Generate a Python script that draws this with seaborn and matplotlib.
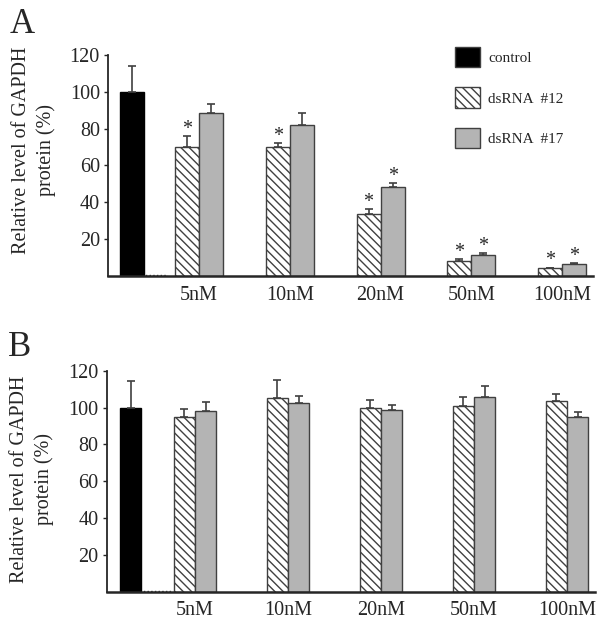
import numpy as np
import pandas as pd
import matplotlib
matplotlib.use("Agg")
import matplotlib.pyplot as plt
from matplotlib.patches import Patch
import seaborn as sns

# ========= DATOS =========
doses = ["5nM", "10nM", "20nM", "50nM", "100nM"]
series = ["dsRNA  #12", "dsRNA  #17"]

# Panel A
ctrl_a, ctrl_err_a = 100, 14
a_12 = [70, 70.2, 33.7, 8.3, 4.2]
a_12_err = [6, 2.2, 2.5, 0.8, 0.4]
a_17 = [88.7, 82, 48.2, 11.4, 6.4]
a_17_err = [4.7, 6.3, 2.5, 1.3, 0.4]
sig_12 = [True, True, True, True, True]
sig_17 = [False, False, True, True, True]

# Panel B
ctrl_b, ctrl_err_b = 100, 14.5
b_12 = [95, 105, 99.5, 101, 103.5]
b_12_err = [4, 10, 4.5, 5, 4]
b_17 = [98.3, 102.3, 98.6, 106, 95]
b_17_err = [5, 4, 2.8, 5.7, 2.4]

yticks = [20, 40, 60, 80, 100, 120]
ylab = "Relative level of GAPDH\nprotein (%)"

# ========= ESTILO =========
sns.set_style("ticks")
plt.rcParams["font.family"] = ["Liberation Serif", "DejaVu Serif"]
plt.rcParams["hatch.linewidth"] = 1.0
plt.rcParams["hatch.color"] = "black"

GREY = "#b4b4b4"
EDGE = "#404040"
HATCH = "\\\\\\\\"
FS = 14.5


def make_df(v12, v17, e12, e17):
    return pd.DataFrame({
        "dose": doses * 2,
        "serie": [series[0]] * 5 + [series[1]] * 5,
        "valor": v12 + v17,
        "err": e12 + e17,
    })


def draw_panel(ax, df, ctrl, ctrl_err, width, ctrl_x, dot_x, dot_w, xlim, sig=None):
    sns.barplot(data=df, x="dose", y="valor", hue="serie",
                order=[""] + doses, hue_order=series,
                palette={series[0]: "white", series[1]: GREY},
                edgecolor=EDGE, linewidth=1.0, width=width,
                errorbar=None, legend=False, ax=ax)
    bw = width / 2
    for p in ax.containers[0]:
        p.set_hatch(HATCH)

    # barra control + barra vacia punteada
    ax.bar(ctrl_x, ctrl, width=bw, color="black", edgecolor="black", linewidth=1.0)
    ax.errorbar(ctrl_x, ctrl, yerr=[[0], [ctrl_err]], fmt="none",
                ecolor=EDGE, elinewidth=1.2, capsize=3, capthick=1.2)
    ax.bar(dot_x, 0.4, width=dot_w, color="none", edgecolor=EDGE,
           linewidth=1.0, linestyle=":")

    for k, cont in enumerate(ax.containers[:2]):
        xs = [p.get_x() + p.get_width() / 2 for p in cont]
        vals = df[df["serie"] == series[k]]["valor"].values
        errs = df[df["serie"] == series[k]]["err"].values
        ax.errorbar(xs, vals, yerr=[np.zeros(len(errs)), errs], fmt="none",
                    ecolor=EDGE, elinewidth=1.2, capsize=3, capthick=1.2)
        if sig is not None:
            for x, v, e, s in zip(xs, vals, errs, sig[k]):
                if s:
                    ax.annotate("*", (x, v + e), xytext=(0, 1.5),
                                textcoords="offset points", ha="center",
                                va="baseline", fontsize=FS)

    ax.set_xlim(*xlim)
    ax.set_ylim(0, 120)
    ax.set_yticks(yticks)
    ax.set_yticklabels([str(t) for t in yticks], fontsize=FS)
    ax.set_xticks(range(1, 6))
    ax.set_xticklabels(doses, fontsize=FS)
    ax.tick_params(axis="x", length=0, pad=7)
    ax.tick_params(axis="y", length=3, width=1, pad=3)
    ax.set_xlabel("")
    ax.set_ylabel(ylab, fontsize=FS, linespacing=1.35)
    sns.despine(ax=ax)
    ax.spines["left"].set_linewidth(1.3)
    ax.spines["bottom"].set_linewidth(1.8)


fig = plt.figure(figsize=(6.02, 6.23), dpi=100)
ax_a = fig.add_axes([0.1798, 0.5570, 0.8052, 0.3547])
ax_b = fig.add_axes([0.1777, 0.0502, 0.8106, 0.3547])

draw_panel(ax_a, make_df(a_12, a_17, a_12_err, a_17_err), ctrl_a, ctrl_err_a,
           width=0.53, ctrl_x=0.264, dot_x=0.52, dot_w=0.25, xlim=(0, 5.34),
           sig=[sig_12, sig_17])
draw_panel(ax_b, make_df(b_12, b_17, b_12_err, b_17_err), ctrl_b, ctrl_err_b,
           width=0.46, ctrl_x=0.31, dot_x=0.59, dot_w=0.3, xlim=(0.054, 5.30))

ax_a.yaxis.set_label_coords(-0.108, 0.57)
ax_b.yaxis.set_label_coords(-0.108, 0.51)

# ========= LEYENDA =========
handles = [
    Patch(facecolor="black", edgecolor=EDGE, label="control"),
    Patch(facecolor="white", edgecolor=EDGE, hatch=HATCH, label=series[0]),
    Patch(facecolor=GREY, edgecolor=EDGE, label=series[1]),
]
ax_a.legend(handles=handles, loc="upper left", bbox_to_anchor=(0.715, 1.037),
            frameon=False, fontsize=11, borderpad=0, borderaxespad=0,
            handlelength=1.65, handleheight=1.7, labelspacing=1.3,
            handletextpad=0.55)

fig.text(0.0166, 0.947, "A", fontsize=25, va="baseline")
fig.text(0.0133, 0.4286, "B", fontsize=25, va="baseline")

fig.savefig("out.png", dpi=100)
